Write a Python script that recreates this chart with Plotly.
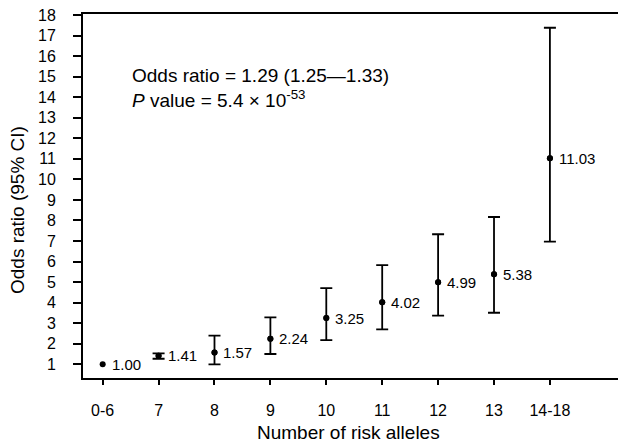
import plotly.graph_objects as go

categories = ["0-6", "7", "8", "9", "10", "11", "12", "13", "14-18"]
odds_ratio = [1.00, 1.41, 1.57, 2.24, 3.25, 4.02, 4.99, 5.38, 11.03]
ci_low = [None, 1.27, 1.00, 1.50, 2.18, 2.70, 3.37, 3.51, 6.97]
ci_high = [None, 1.53, 2.40, 3.28, 4.71, 5.83, 7.33, 8.17, 17.38]
labels = ["1.00", "1.41", "1.57", "2.24", "3.25", "4.02", "4.99", "5.38", "11.03"]
y_ticks = list(range(1, 19))

x_pos = list(range(len(categories)))
has_ci = [i for i in x_pos if ci_low[i] is not None]
err_plus = [ci_high[i] - odds_ratio[i] for i in has_ci]
err_minus = [odds_ratio[i] - ci_low[i] for i in has_ci]

FONT = "Liberation Sans, Arial, sans-serif"

fig = go.Figure()
# error bars (only for groups with a CI)
fig.add_trace(go.Scatter(
    x=has_ci, y=[odds_ratio[i] for i in has_ci], mode="markers",
    marker=dict(color="black", size=6),
    error_y=dict(type="data", symmetric=False, array=err_plus, arrayminus=err_minus,
                 color="black", thickness=1.8, width=6, visible=True),
    showlegend=False, hoverinfo="skip",
))
# all point estimates
fig.add_trace(go.Scatter(
    x=x_pos, y=odds_ratio, mode="markers",
    marker=dict(color="black", size=6),
    showlegend=False, hoverinfo="skip",
))

for xi, yi, lab in zip(x_pos, odds_ratio, labels):
    fig.add_annotation(x=xi, y=yi, text=lab, showarrow=False, xanchor="left",
                       yanchor="middle", xshift=7, font=dict(family=FONT, size=15, color="black"))

fig.add_annotation(xref="paper", yref="paper", x=(130 - 83) / 535, y=(378 - 88) / 364,
                   text="Odds ratio = 1.29 (1.25\u20141.33)<br><i>P</i> value = 5.4 \u00d7 10<sup>-53</sup>",
                   showarrow=False, xanchor="left", yanchor="middle", align="left",
                   font=dict(family=FONT, size=19, color="black"))

# axis titles
fig.add_annotation(xref="paper", yref="paper", x=(348 - 83) / 535, y=-(433 - 378) / 364,
                   text="Number of risk alleles", showarrow=False, xanchor="center", yanchor="middle",
                   font=dict(family=FONT, size=19, color="black"))
fig.add_annotation(xref="paper", yref="paper", x=-(83 - 17) / 535, y=(378 - 210) / 364,
                   text="Odds ratio (95% CI)", showarrow=False, xanchor="center", yanchor="middle",
                   textangle=-90, font=dict(family=FONT, size=19, color="black"))

fig.update_layout(
    width=618, height=444,
    margin=dict(l=83, r=0, t=14, b=66, autoexpand=False),
    plot_bgcolor="white", paper_bgcolor="white",
    font=dict(family=FONT, color="black"),
    xaxis=dict(
        range=[-0.352, 9.218], tickvals=x_pos, ticktext=categories,
        showline=True, linecolor="black", linewidth=2, mirror=True,
        ticks="outside", ticklen=5, tickwidth=1.5, tickcolor="black",
        showgrid=False, zeroline=False, ticklabelstandoff=12, automargin=False,
        tickfont=dict(family=FONT, size=16, color="black"),
    ),
    yaxis=dict(
        range=[0.333, 18.05], tickvals=y_ticks,
        showline=True, linecolor="black", linewidth=2, mirror=False,
        ticks="outside", ticklen=8, tickwidth=1.5, tickcolor="black",
        showgrid=False, zeroline=False, ticklabelstandoff=14, automargin=False,
        tickfont=dict(family=FONT, size=16, color="black"),
    ),
)

fig.write_html("out.html", config={"displayModeBar": False},
               post_script="document.body.style.margin='0';document.body.style.overflow='hidden';")
